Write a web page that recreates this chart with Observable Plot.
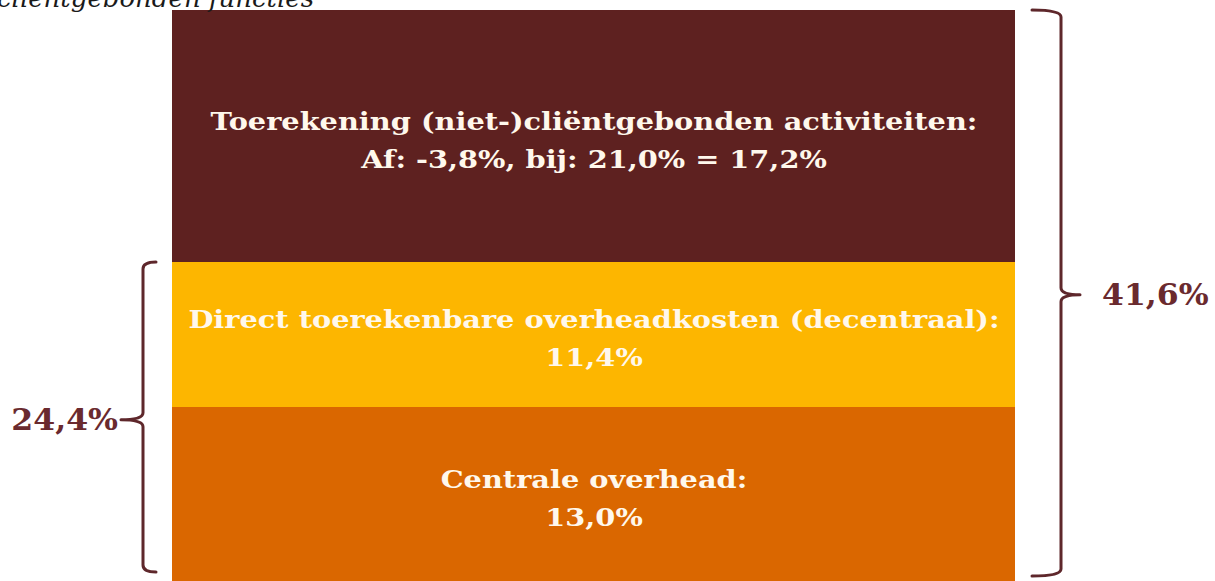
<!DOCTYPE html>
<html>
<head>
<meta charset="utf-8">
<script src="https://cdn.jsdelivr.net/npm/d3@7"></script>
<script src="https://cdn.jsdelivr.net/npm/@observablehq/plot@0.6"></script>
<style>
  html, body { margin: 0; padding: 0; background: #fff; overflow: hidden; }
  #wrap { position: relative; width: 1215px; height: 581px; }
  #title { position: absolute; left: -3px; top: -17px; font-family: "DejaVu Serif", serif; font-style: italic; font-size: 26px; color: #1a1a1a; white-space: nowrap; z-index: 2; }
  #chart { position: absolute; left: 0; top: 0; }
</style>
</head>
<body>
<div id="wrap">
  <div id="title">cliëntgebonden functies</div>
  <div id="chart"></div>
</div>
<script>
// ---- data (bottom to top) ----
const segmentNames = ["Centrale overhead", "Direct toerekenbare overheadkosten (decentraal)", "Toerekening (niet-)cliëntgebonden activiteiten"];
const segmentValues = [13.0, 11.4, 17.2];
const segmentDetail = ["13,0%", "11,4%", "Af: -3,8%, bij: 21,0% = 17,2%"];
const segmentColors = ["#DA6700", "#FDB600", "#5E2120"];
const braceLabels = ["24,4%", "41,6%"];
const braceSpans = [2, 3];           // number of segments (from the bottom) each brace covers
const braceSides = ["left", "right"];

// ---- derived table ----
const tops = d3.cumsum(segmentValues);
const rows = segmentNames.map((name, i) => ({
  name,
  detail: segmentDetail[i],
  color: segmentColors[i],
  y1: i === 0 ? 0 : tops[i - 1],
  y2: tops[i]
}));
const braces = braceLabels.map((label, i) => ({
  label, side: braceSides[i], y1: 0, y2: tops[braceSpans[i] - 1]
}));

const braceColor = "#5E272B";
const labelColor = "#6A2A2E";
const stretch = 1.2;

function braceMark(index, scales) {
  const {x, y} = scales;
  const g = d3.create("svg:g");
  for (const b of braces) {
    const left = b.side === "left";
    const vx = left ? x(0) - 29 : x(1) + 46;
    const hx = left ? vx + 13 : vx - 29;
    const tx = left ? vx - 22 : vx + 19;
    const top = y(b.y2);
    const bot = y(b.y1) - (left ? 9 : 5);
    const mid = y((b.y1 + b.y2) / 2) + (left ? 2 : -13);
    const r = 7;
    const p = d3.path();
    p.moveTo(hx, top);
    p.quadraticCurveTo(vx, top, vx, top + r);
    p.lineTo(vx, mid - r);
    p.quadraticCurveTo(vx, mid, tx, mid);
    p.moveTo(tx, mid);
    p.quadraticCurveTo(vx, mid, vx, mid + r);
    p.lineTo(vx, bot - r);
    p.quadraticCurveTo(vx, bot, hx, bot);
    g.append("path")
      .attr("d", p.toString())
      .attr("fill", "none")
      .attr("stroke", braceColor)
      .attr("stroke-width", 3)
      .attr("stroke-linecap", "round");
    const lx = left ? tx - 3 : tx + 22;
    g.append("text")
      .attr("transform", `translate(${lx},${mid}) scale(1.05,1)`)
      .attr("dy", "0.35em")
      .attr("text-anchor", left ? "end" : "start")
      .attr("font-family", "DejaVu Serif, serif")
      .attr("font-weight", "bold")
      .attr("font-size", 30)
      .attr("fill", labelColor)
      .text(b.label);
  }
  return g.node();
}

const chart = Plot.plot({
  width: 1215,
  height: 581,
  marginTop: 0, marginBottom: 0, marginLeft: 0, marginRight: 0,
  style: {background: "transparent", overflow: "visible"},
  x: {type: "linear", domain: [0, 1], range: [172, 1015], axis: null},
  y: {type: "linear", domain: [0, ...tops], range: [581, 407, 262, 10], axis: null},
  color: {type: "identity"},
  marks: [
    Plot.rect(rows, {x1: 0, x2: 1, y1: "y1", y2: "y2", fill: "color"}),
    Plot.text(rows, {
      x: 0.5,
      y: d => (d.y1 + d.y2) / 2,
      text: d => d.name + ":\n" + d.detail,
      fill: "#FFF8EC",
      fontFamily: "DejaVu Serif, serif",
      fontWeight: "bold",
      fontSize: 24,
      lineHeight: 1.6,
      textAnchor: "middle"
    }),
    braceMark
  ]
});
// widen the segment labels horizontally, as in the (stretched) reference
d3.select(chart).selectAll("g[aria-label='text'] text").each(function() {
  const t = this.getAttribute("transform") || "";
  this.setAttribute("transform", t + ` scale(${stretch},1)`);
});
document.getElementById("chart").appendChild(chart);
</script>
</body>
</html>
